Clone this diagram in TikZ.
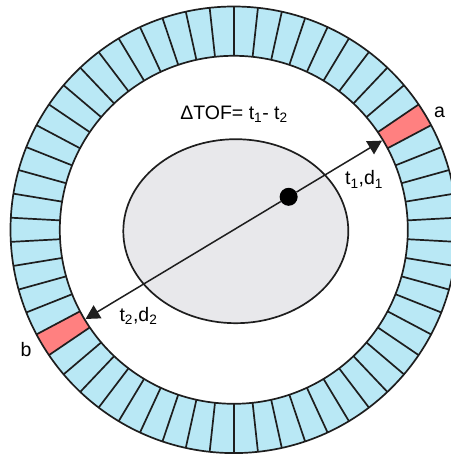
\documentclass[tikz,border=0pt]{standalone}
\usepackage{fontspec}
\setmainfont{Liberation Sans}
\usetikzlibrary{arrows.meta}
\definecolor{ringblue}{RGB}{185,232,245}
\definecolor{hitred}{RGB}{255,128,128}
\definecolor{bodygray}{RGB}{232,232,235}
\definecolor{inkc}{RGB}{30,30,30}
\begin{document}
\begin{tikzpicture}[x=1pt,y=1pt,
  lbl/.style={inner sep=0pt, font=\fontsize{19.5}{23}\selectfont, text=black},
  ringline/.style={draw=inkc, line width=1.7pt},
  ray/.style={draw=inkc, line width=1.5pt, -{Triangle[length=14pt,width=15pt]}},
  dotn/.style={circle, fill=black, inner sep=0pt, minimum size=18pt}]
\useasboundingbox (-233.8,-224.2) rectangle (216.2,229.8);
\def\Ri{174}\def\Ro{223.3}
% ring fill
\path[fill=ringblue, even odd rule] (0,0) circle (\Ro) (0,0) circle (\Ri);
% hit detectors
\foreach \s/\e in {27.931/34.138, 207.931/214.138} {
  \fill[hitred] (\s:\Ri) -- (\s:\Ro) arc[start angle=\s, end angle=\e, radius=\Ro]
    -- (\e:\Ri) arc[start angle=\e, end angle=\s, radius=\Ri] -- cycle;
}
% segment lines
\foreach \k in {0,...,57} {
  \draw[ringline] ({90+\k*6.20690}:\Ri) -- ({90+\k*6.20690}:\Ro);
}
\draw[ringline] (0,0) circle (\Ro);
\draw[ringline] (0,0) circle (\Ri);
% body
\draw[ringline, fill=bodygray] (2,-1.4) ellipse [x radius=112.5, y radius=92];
% source and rays
\node[dotn] (src) at (31.03:64) {};
\coordinate (ta) at (31.03:173);
\coordinate (tb) at (211.03:173);
\draw[ray] (src) -- (ta);
\draw[ray] (src) -- (tb);
% labels
\node[lbl, anchor=base] (tof) at (0.2,110.5) {ΔTOF= t\textsubscript{1}- t\textsubscript{2}};
\node[lbl, anchor=base] (la) at (205.7,111.8) {a};
\node[lbl, anchor=base] (lb) at (-207.8,-126.9) {b};
\node[lbl, anchor=base west] (l1) at (111.2,44.8) {t\textsubscript{1},d\textsubscript{1}};
\node[lbl, anchor=base west] (l2) at (-114.5,-91.9) {t\textsubscript{2},d\textsubscript{2}};
\end{tikzpicture}
\end{document}
